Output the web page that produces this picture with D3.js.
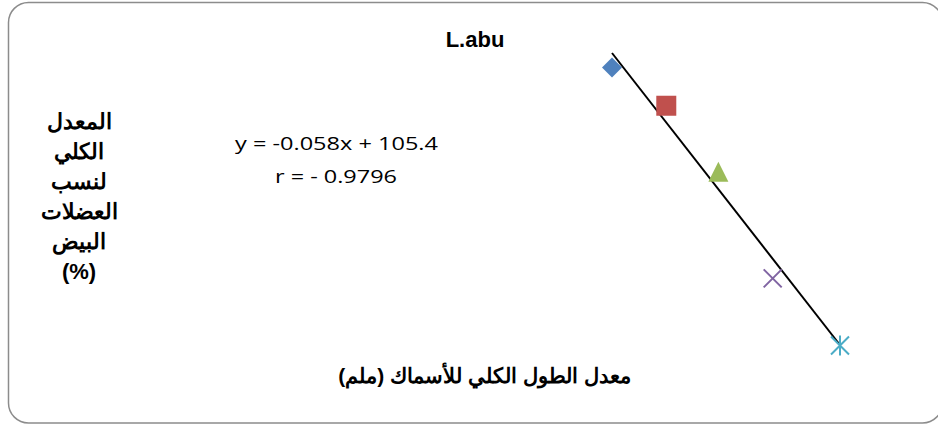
<!DOCTYPE html>
<html>
<head>
<meta charset="utf-8">
<script src="https://cdn.jsdelivr.net/npm/d3@7"></script>
<style>
  html, body { margin: 0; padding: 0; background: #fff; }
  svg { display: block; }
</style>
</head>
<body>
<svg id="chart" width="938" height="426"></svg>
<script>
// Mean total length (mm) and mean white-muscle ratio (%) per length group
const lengths = [150, 200, 248, 298, 360];
const whiteMuscle = [96.1, 94.5, 91.7, 87.3, 84.5];
const markerShapes = ["diamond", "square", "triangle", "cross", "star"];
const markerColors = ["#4f81bd", "#c0504d", "#9bbb59", "#8064a2", "#4bacc6"];

// Fitted regression line
const slope = -0.058;
const intercept = 105.4;
const equationText = "y = -0.058x + 105.4";
const rText = "r = - 0.9796";

const title = "L.abu";
const xTitle = "معدل الطول الكلي للأسماك (ملم)";
const yTitleLines = ["المعدل", "الكلي", "لنسب", "العضلات", "البيض", "(%)"];

const svg = d3.select("#chart");

// Rounded chart frame
svg.append("rect")
  .attr("x", 8.5).attr("y", 2.5)
  .attr("width", 934).attr("height", 420.5)
  .attr("rx", 20).attr("ry", 20)
  .attr("fill", "#fff")
  .attr("stroke", "#8c8c8c")
  .attr("stroke-width", 1.5);

const x = d3.scaleLinear().domain([150, 360]).range([612, 840]);
const y = d3.scaleLinear().domain([84.52, 96.7]).range([345, 53]);

// Trend line from the regression equation
const xExtent = d3.extent(lengths);
const trend = xExtent.map(v => [v, slope * v + intercept]);
svg.append("path")
  .attr("d", d3.line().x(d => x(d[0])).y(d => y(d[1]))(trend))
  .attr("stroke", "#000")
  .attr("stroke-width", 2)
  .attr("fill", "none");

// Markers
const g = svg.append("g");
lengths.forEach((len, i) => {
  const cx = x(len), cy = y(whiteMuscle[i]);
  const c = markerColors[i];
  const shape = markerShapes[i];
  if (shape === "diamond") {
    g.append("path")
      .attr("d", `M${cx},${cy - 10}L${cx + 10},${cy}L${cx},${cy + 10}L${cx - 10},${cy}Z`)
      .attr("fill", c);
  } else if (shape === "square") {
    g.append("rect")
      .attr("x", cx - 10).attr("y", cy - 10)
      .attr("width", 20).attr("height", 20)
      .attr("fill", c);
  } else if (shape === "triangle") {
    g.append("path")
      .attr("d", `M${cx},${cy - 11}L${cx + 10},${cy + 9}L${cx - 10},${cy + 9}Z`)
      .attr("fill", c);
  } else if (shape === "cross") {
    g.append("path")
      .attr("d", `M${cx - 9},${cy - 9}L${cx + 9},${cy + 9}M${cx + 9},${cy - 9}L${cx - 9},${cy + 9}`)
      .attr("stroke", c).attr("stroke-width", 2).attr("fill", "none");
  } else if (shape === "star") {
    g.append("path")
      .attr("d", `M${cx - 9},${cy - 9}L${cx + 9},${cy + 9}M${cx + 9},${cy - 9}L${cx - 9},${cy + 9}M${cx},${cy - 10}L${cx},${cy + 10}`)
      .attr("stroke", c).attr("stroke-width", 2).attr("fill", "none");
  }
});

// Title
svg.append("text")
  .attr("x", 475).attr("y", 47)
  .attr("text-anchor", "middle")
  .attr("font-family", "Liberation Sans, Arial, sans-serif")
  .attr("font-weight", "bold")
  .attr("font-size", 22)
  .text(title);

// Regression labels
const eqFont = "'Open Sans', Lato, sans-serif";
svg.append("text")
  .attr("x", 336.5).attr("y", 149.5)
  .attr("text-anchor", "middle")
  .attr("font-family", eqFont)
  .attr("font-size", 18)
  .attr("textLength", 203)
  .attr("lengthAdjust", "spacingAndGlyphs")
  .text(equationText);
svg.append("text")
  .attr("x", 336).attr("y", 183)
  .attr("text-anchor", "middle")
  .attr("font-family", eqFont)
  .attr("font-size", 18)
  .attr("textLength", 122)
  .attr("lengthAdjust", "spacingAndGlyphs")
  .text(rText);

// Y axis title (stacked lines)
const yt = svg.append("text")
  .attr("text-anchor", "middle")
  .attr("font-family", "Liberation Sans, Arial, sans-serif")
  .attr("font-weight", "bold")
  .attr("font-size", 22);
yTitleLines.forEach((line, i) => {
  yt.append("tspan").attr("x", 79).attr("y", 129 + i * 30).text(line);
});

// X axis title
svg.append("text")
  .attr("x", 484.5).attr("y", 383)
  .attr("text-anchor", "middle")
  .attr("direction", "rtl")
  .attr("font-family", "Liberation Sans, Arial, sans-serif")
  .attr("font-weight", "bold")
  .attr("font-size", 21)
  .text(xTitle);
</script>
</body>
</html>
